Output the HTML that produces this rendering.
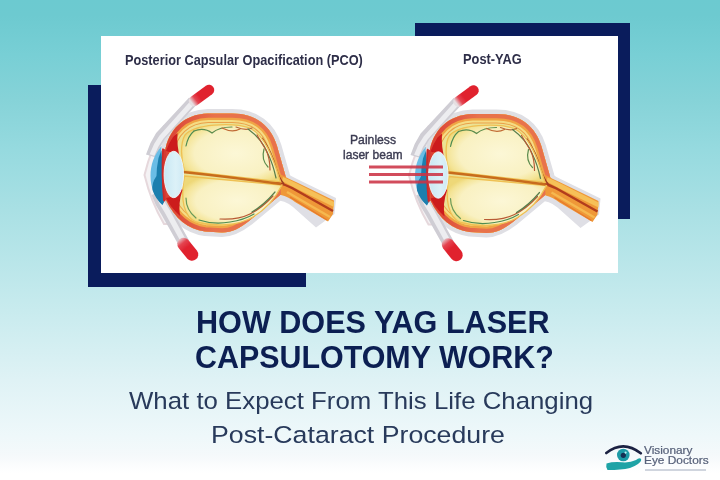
<!DOCTYPE html>
<html><head><meta charset="utf-8">
<style>
*{margin:0;padding:0;box-sizing:border-box}
html,body{width:720px;height:480px;overflow:hidden}
body{position:relative;font-family:"Liberation Sans",sans-serif;
background:linear-gradient(180deg,#6ccad0 0px,#6dcad0 15px,#78cfd5 55px,#86d3d8 100px,#96dadf 150px,#a9e0e4 210px,#c8ebee 310px,#dff2f5 380px,#eef8fa 435px,#f5f9fb 456px,#fcfdfe 467px,#ffffff 473px)}
.nv{position:absolute;background:#0a1c5c}
#card{position:absolute;left:101px;top:36px;width:517px;height:237px;background:#fff}
.lbl{position:absolute;filter:blur(0.25px);line-height:1;font-weight:bold;color:#2e2e48;white-space:nowrap;transform-origin:0 0}
.t1{position:absolute;filter:blur(0.3px);font-weight:bold;color:#0c1f52;font-size:30.6px;white-space:nowrap;line-height:1;transform-origin:0 0}
.t2{position:absolute;filter:blur(0.3px);color:#283a5b;font-size:24.5px;white-space:nowrap;line-height:1;transform-origin:0 0}
svg{position:absolute;left:0;top:0}
</style></head><body>
<div class="nv" style="left:415px;top:23px;width:215px;height:13px"></div>
<div class="nv" style="left:617px;top:23px;width:13px;height:196px"></div>
<div class="nv" style="left:88px;top:85px;width:13px;height:202px"></div>
<div class="nv" style="left:88px;top:273px;width:218px;height:14px"></div>
<div id="card"></div>

<div class="lbl" id="l1" style="left:125px;top:51.5px;font-size:15.1px;transform:scaleX(0.844)">Posterior Capsular Opacification (PCO)</div>
<div class="lbl" id="l2" style="left:462.5px;top:51.3px;font-size:15.1px;transform:scaleX(0.85)">Post-YAG</div>
<div class="lbl" id="l3" style="left:349.8px;top:133.7px;font-size:12.7px;transform:scaleX(0.96);font-weight:normal;-webkit-text-stroke:0.4px #3c3c52;color:#3c3c52">Painless</div>
<div class="lbl" id="l4" style="left:342.7px;top:148.9px;font-size:12.7px;transform:scaleX(0.95);font-weight:normal;-webkit-text-stroke:0.4px #3c3c52;color:#3c3c52">laser beam</div>

<svg width="720" height="480" viewBox="0 0 720 480">
<defs>
<radialGradient id="vit" cx="0.55" cy="0.5" r="0.6">
<stop offset="0" stop-color="#fcf7d6"/><stop offset="0.7" stop-color="#f9f1c2"/><stop offset="0.9" stop-color="#f4e496"/><stop offset="1" stop-color="#eed878"/>
</radialGradient>
<linearGradient id="lensg" x1="0" y1="0" x2="1" y2="0">
<stop offset="0" stop-color="#c9e8f4"/><stop offset="0.6" stop-color="#dcf1f8"/><stop offset="1" stop-color="#cfeaf5"/>
</linearGradient>
<linearGradient id="chor" gradientUnits="userSpaceOnUse" x1="160" y1="0" x2="215" y2="0">
<stop offset="0" stop-color="#d93c32"/><stop offset="1" stop-color="#e8724c"/>
</linearGradient>
<linearGradient id="tipT" gradientUnits="userSpaceOnUse" x1="192" y1="103" x2="200" y2="97">
<stop offset="0" stop-color="#e6dfe2"/><stop offset="0.5" stop-color="#e44450"/><stop offset="1" stop-color="#e0202e"/>
</linearGradient>
<linearGradient id="tipB" gradientUnits="userSpaceOnUse" x1="179" y1="238" x2="187" y2="248">
<stop offset="0" stop-color="#e6dfe2"/><stop offset="0.5" stop-color="#e44450"/><stop offset="1" stop-color="#e0202e"/>
</linearGradient>
<clipPath id="gclip"><path d="M165 152 C168 130 184 114 208 113.5 L232 113.5 C256 113.5 271 126 277 146 L285 174 Q288 183 285 191 L249 221 C240 228 232 232.5 222 232.5 L205 231.5 C188 229 175 219 166 200 Z"/></clipPath>
<filter id="soft" x="-5%" y="-5%" width="110%" height="110%"><feGaussianBlur stdDeviation="0.55"/></filter>
<g id="eye">
 <!-- optic nerve sheath -->
 <path d="M278 166 Q288 175 296 178.5 L336 198 L334.5 214 L316 227.5 L293 207 Q285 200 274 200 Z" fill="#dfdfe5"/>
 <!-- front sclera -->
 <path d="M164 126 Q151 148 144.5 175 Q151 202 164 224 L185 224 L185 126 Z" fill="#f4f2f4" stroke="#e6d8dc" stroke-width="2"/>
 <!-- globe -->
 <path d="M165 152 C168 130 184 114 208 113.5 L232 113.5 C256 113.5 271 126 277 146 L285 174 Q288 183 285 191 L249 221 C240 228 232 232.5 222 232.5 L205 231.5 C188 229 175 219 166 200 Z" fill="#e5643e" stroke="#dfdfe4" stroke-width="9" stroke-linejoin="round"/>
 <!-- muscles -->
 <path d="M151 156 Q154.5 145 160.5 136 L193 101" stroke="#cfcdd4" stroke-width="10.5" fill="none"/>
 <path d="M152 155 Q155.5 145 161.5 137 L193 102" stroke="#ededf0" stroke-width="5" fill="none"/>
 <path d="M194 101 L209 90" stroke="url(#tipT)" stroke-width="10.5" fill="none" stroke-linecap="round"/>
 <path d="M157 193 Q160.5 203 166 211 L184 243" stroke="#cfcdd4" stroke-width="11.5" fill="none"/>
 <path d="M158 194 Q161.5 203 167 211 L184 242" stroke="#ededf0" stroke-width="5.5" fill="none"/>
 <path d="M183.5 244 L192 254.5" stroke="url(#tipB)" stroke-width="12.5" fill="none" stroke-linecap="round"/>
 <g clip-path="url(#gclip)">
  <path d="M165 152 C168 130 184 114 208 113.5 L232 113.5 C256 113.5 271 126 277 146 L285 174 Q288 183 285 191 L249 221 C240 228 232 232.5 222 232.5 L205 231.5 C188 229 175 219 166 200 Z" fill="#ece294" stroke="#eaa048" stroke-width="19" stroke-linejoin="round"/>
  <path d="M165 152 C168 130 184 114 208 113.5 L232 113.5 C256 113.5 271 126 277 146 L285 174 Q288 183 285 191 L249 221 C240 228 232 232.5 222 232.5 L205 231.5 C188 229 175 219 166 200 Z" fill="none" stroke="#f5dc84" stroke-width="17" stroke-linejoin="round"/>
  <path d="M165 152 C168 130 184 114 208 113.5 L232 113.5 C256 113.5 271 126 277 146 L285 174 Q288 183 285 191 L249 221 C240 228 232 232.5 222 232.5 L205 231.5 C188 229 175 219 166 200 Z" fill="none" stroke="#f0a444" stroke-width="13" stroke-linejoin="round"/>
  <path d="M165 152 C168 130 184 114 208 113.5 L232 113.5 C256 113.5 271 126 277 146 L285 174 Q288 183 285 191 L249 221 C240 228 232 232.5 222 232.5 L205 231.5 C188 229 175 219 166 200 Z" fill="none" stroke="url(#chor)" stroke-width="8.5" stroke-linejoin="round"/>
 </g>
 <!-- optic nerve core -->
 <path d="M280 174 Q289 179 296 182 L334 200.5 L333 214 L328 221.5 L295 202 Q288 196.5 281 195 Z" fill="#ef9838"/>
 <path d="M283 177 Q290 180 296 183 L334 202 L334 207 L295 188 Q288 184 282 181 Z" fill="#f6c058"/>
 <path d="M287 192 L330 217" stroke="#f6b850" stroke-width="2.4" fill="none"/>
 <path d="M290 197 L327 220" stroke="#e87a2c" stroke-width="1.3" fill="none"/>
 <path d="M276 182.5 Q285 184 292 188 L333 211" stroke="#b23c1e" stroke-width="2.4" fill="none"/>
 <path d="M262 138 Q272 152 276 168 Q279 178 284 184" stroke="#9a3e22" stroke-width="1.3" fill="none"/>
 <!-- vitreous lobes -->
 <path d="M184.5 171 C181 160 180 143 185 135 C194 124 232 122 250 128 C265 136 273 157 280.5 182 Z" fill="url(#vit)" stroke="#efc052" stroke-width="1.3"/>
 <path d="M184.5 176 L282 185 C275 199 265 210 253 217 C238 226 215 227 196 222 C184 217 180 200 184.5 176 Z" fill="url(#vit)" stroke="#efc052" stroke-width="1.3"/>
 <!-- retina vessels -->
 <g fill="none" stroke-width="1.2" stroke-linecap="round">
  <path d="M186 146 Q188 136 194 131" stroke="#4f8c52"/>
  <path d="M194 131 Q204 127 212 133 Q219 127 232 127" stroke="#5c8c4e"/>
  <path d="M222 128 Q232 133 240 129" stroke="#c06a34"/>
  <path d="M236 127 Q246 131 252 128" stroke="#b8683a"/>
  <path d="M248 129 Q262 139 268 154 Q273 164 276 178" stroke="#587e4c"/>
  <path d="M257 135 Q263 145 266 150 Q270 158 270 170" stroke="#b85a34"/>
  <path d="M264 149 Q261 160 268 167" stroke="#5c8c4e"/>
  <path d="M199 220 Q214 225 230 222 Q244 220 254 214" stroke="#4f8c52"/>
  <path d="M220 219 Q238 220 250 214 Q262 208 273 196" stroke="#b85a34"/>
  <path d="M252 212 Q264 205 275 192" stroke="#587e4c"/>
  <path d="M186 198 Q186 210 196 218" stroke="#6a9a58"/>
 </g>
 <!-- red ciliary / iris -->
 <path d="M166 151 Q169 143 173 137 L177.5 133 Q176.5 146 180.5 160 L182 164 Q178 153 166 151 Z" fill="#cc1a1e"/>
 <path d="M166 198 Q170 206 176 212 L180 216 Q178 203 182.5 190 L181 187 Q177 197 166 198 Z" fill="#cc1a1e"/>
 <path d="M162.5 148 Q160.5 175 163 203 L166 200 L166 150 Z" fill="#d33a30"/>
 <!-- cornea -->
 <path d="M161.5 146 C154 155 150.5 165 150.5 176 C150.5 188 155 197 162.5 205 Q157.5 176 161.5 146 Z" fill="#6abde6"/>
 <path d="M158.5 158 Q156.5 168 156.5 176 Q151.5 183 152.5 190 Q155.5 199 162.5 205 L164 202 Q162 190 163 176 Q162.5 164 161.5 150 Z" fill="#1b7fae"/>
 <path d="M163 149 Q161.5 175 164 201" stroke="#cc2a2a" stroke-width="1.6" fill="none"/>
 <!-- canal -->
 <path d="M183 172 Q230 177 281 184" stroke="#c86c1e" stroke-width="2.4" fill="none"/>
 <!-- lens -->
 <ellipse cx="173.8" cy="174.5" rx="9.7" ry="23.2" fill="url(#lensg)" stroke="#eef7fa" stroke-width="0.9"/>
</g>
</defs>
<g filter="url(#soft)"><use href="#eye"/>
<use href="#eye" transform="translate(264.5,0.5)"/></g>
<g stroke="#cc3446" stroke-width="2.8" opacity="0.88">
<line x1="369" y1="167" x2="443" y2="167"/>
<line x1="369" y1="174.5" x2="443" y2="174.5"/>
<line x1="369" y1="182" x2="443" y2="182"/>
</g>
</svg>

<div class="t1" id="h1" style="left:196px;top:307.3px">HOW DOES YAG LASER</div>
<div class="t1" id="h2" style="left:195px;top:342.1px;transform:scaleX(0.994)">CAPSULOTOMY WORK?</div>
<div class="t2" id="s1" style="left:128.75px;top:389px;transform:scaleX(1.053)">What to Expect From This Life Changing</div>
<div class="t2" id="s2" style="left:210.5px;top:422.7px;transform:scaleX(1.09)">Post-Cataract Procedure</div>

<svg width="720" height="480" viewBox="0 0 720 480" style="position:absolute;left:0;top:0;filter:blur(0.25px)">
 <path d="M606.3 453 Q623.3 439.5 640.8 453.3" stroke="#1b2142" stroke-width="2.6" fill="none" stroke-linecap="round"/>
 <circle cx="623.3" cy="455" r="6.3" fill="#1c9aa6"/>
 <circle cx="623.3" cy="455.3" r="2.6" fill="#173054"/>
 <circle cx="625.6" cy="452.6" r="1.1" fill="#bfeef2"/>
 <path d="M606.5 463.5 Q613 461.5 622 462.3 Q630 463 636 460 Q639 457.5 641 458.8 Q642 461 638 464 Q631 469 620 469.5 Q612 470.2 607.5 470 Q605.5 467 606.5 463.5 Z" fill="#1ea3a6"/>
</svg>
<div id="lg1" style="position:absolute;left:644.3px;top:446px;transform:scaleX(1.16);font-size:10.2px;line-height:1;color:#566079;-webkit-text-stroke:0.2px #566079;filter:blur(0.2px);white-space:nowrap;transform-origin:0 0">Visionary</div>
<div id="lg2" style="position:absolute;left:643.8px;top:456.3px;transform:scaleX(1.165);font-size:10.2px;line-height:1;color:#566079;-webkit-text-stroke:0.2px #566079;filter:blur(0.2px);white-space:nowrap;transform-origin:0 0">Eye Doctors</div>
<div style="position:absolute;left:645px;top:469.3px;width:61px;height:1.3px;background:#d0d5de"></div>
</body></html>
